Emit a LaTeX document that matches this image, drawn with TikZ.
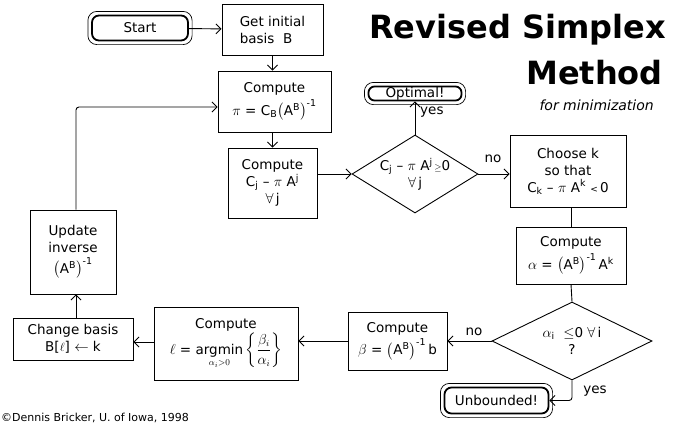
\documentclass[tikz,border=0pt]{standalone}
\usepackage{fontspec}
\usepackage{amsmath}
\usepackage{graphicx}
\setmainfont{DejaVu Sans}
\newfontfamily\titlefont{DejaVu Sans}
\usetikzlibrary{arrows.meta,shapes.geometric}

\tikzset{
  box/.style={draw, line width=0.9pt, align=center, inner sep=1pt,
    font=\fontsize{13.5}{17}\selectfont},
  decision/.style={draw, diamond, line width=0.9pt, align=center, inner sep=0pt,
    font=\fontsize{13.5}{17}\selectfont},
  terminal/.style={draw, line width=1.8pt, rounded corners=7pt, inner sep=0pt,
    font=\fontsize{13.5}{15}\selectfont},
  rim/.style={line width=0.7pt, rounded corners=9pt},
  flow/.style={line width=0.9pt, -{Straight Barb[length=5pt,width=10pt]}},
  plain/.style={line width=0.9pt},
  lbl/.style={font=\fontsize{13.5}{15}\selectfont, inner sep=0pt},
}
\newcommand{\ABinv}{\bigl(\text{A\textsuperscript{B}}\bigr)^{\text{-1}}}

\begin{document}
\begin{tikzpicture}[x=1pt,y=-1pt]
\useasboundingbox (0,0) rectangle (684,423);

% title
\node[anchor=base east, inner sep=0pt, font=\titlefont\bfseries\fontsize{32}{34}\selectfont]
  (title1) at (666,38) {Revised Simplex};
\node[anchor=base east, inner sep=0pt, font=\titlefont\bfseries\fontsize{32}{34}\selectfont]
  (title2) at (663,84) {Method};
\node[anchor=base east, inner sep=0pt, font=\itshape\fontsize{14}{16}\selectfont]
  (title3) at (654,110) {for minimization};

% terminals
\node[terminal, minimum width=96pt, minimum height=25pt] (start) at (140,28) {Start};
\node[terminal, minimum width=93pt, minimum height=14pt, rounded corners=6pt] (opt) at (415,93.5) {Optimal!};
\node[terminal, minimum width=104pt, minimum height=26pt] (unb) at (496.5,400.5) {Unbounded!};
\foreach \t in {start,opt,unb}
  \draw[rim] ([xshift=-3.2pt,yshift=-3.2pt]\t.south west) rectangle ([xshift=3.2pt,yshift=3.2pt]\t.north east);

% process boxes
\node[box, minimum width=101pt, minimum height=51pt, align=left] (getb) at (272.5,29.5)
  {Get initial\\basis\ \ B};
\node[box, minimum width=113pt, minimum height=61pt] (pi) at (274.5,101.5)
  {Compute\\[3pt] $\pi$ = C\textsubscript{B}$\ABinv$};
\node[box, minimum width=89pt, minimum height=70pt] (cj) at (272.5,183)
  {Compute\\C\textsubscript{j} -- $\pi$ A\textsuperscript{j}\\$\forall$\,j};
\node[box, minimum width=116pt, minimum height=72pt] (choosek) at (568,171)
  {Choose k\\so that\\C\textsubscript{k} -- $\pi$ A\textsuperscript{k} {\small<}\,0};
\node[box, minimum width=110pt, minimum height=57pt] (alpha) at (571,255.5)
  {Compute\\[3pt]$\alpha$ = $\ABinv$\,A\textsuperscript{k}};
\node[box, minimum width=99pt, minimum height=58pt] (beta) at (397.5,341)
  {Compute\\[3pt]$\beta$ = $\ABinv$\,b};
\node[box, minimum width=144pt, minimum height=73pt] (ell) at (226,343.5)
  {Compute\\[1pt]{\Large$\ell$} = $\mathop{\text{argmin}}\limits_{\alpha_i>0}\left\{\dfrac{\beta_i}{\alpha_i}\right\}$};
\node[box, minimum width=120pt, minimum height=42pt] (chg) at (73,339)
  {Change basis\\B[{\large$\ell$}] $\leftarrow$ k};
\node[box, minimum width=86pt, minimum height=84pt] (upd) at (73,252)
  {Update\\inverse\\[4pt]$\ABinv$};

% decisions
\node[decision, minimum width=126pt, minimum height=78pt, aspect=1.6] (d1) at (415,174)
  {C\textsubscript{j} -- $\pi$ A\textsuperscript{j\,}{\small$\geq$}0\\$\forall$\,j};
\node[decision, minimum width=160pt, minimum height=78pt, aspect=2] (d2) at (572,341)
  {$\alpha$\textsubscript{i}\ \ {$\leq$}0 $\forall$\,i\\?};

% connectors
\draw[flow] (start) -- (getb);
\draw[flow] (getb) -- (getb |- pi.north);
\draw[flow] (pi.south -| getb) -- (cj.north -| getb);
\draw[flow] (cj.east |- d1.west) -- (d1.west);
\draw[flow] (d1.north) -- (opt.south);
\draw[flow] (d1.east) -- (d1.east -| choosek.west);
\draw[plain] (alpha.north |- choosek.south) -- (alpha.north);
\draw[plain] (alpha.south) -- (d2.north);
\draw[flow] (d2.west) -- (d2.west -| beta.east);
\draw[flow, rounded corners=3pt] (d2.south) |- (unb.east);
\draw[flow] (beta.west) -- (beta.west -| ell.east);
\draw[flow] (ell.west |- 0,342) -- (chg.east |- 0,342);
\draw[flow] ([xshift=3pt]chg.north) -- ([xshift=3pt]upd.south);
\draw[flow, rounded corners=3pt] ([xshift=3pt]upd.north) |- ([yshift=-5.5pt]pi.west);

% branch labels
\node[lbl, anchor=base west] (yes1) at (420,114) {yes};
\node[lbl] (no1) at (493,159) {no};
\node[lbl] (no2) at (474,332) {no};
\node[lbl] (yes2) at (595,391) {yes};

% credit line
\node[anchor=base west, inner sep=0pt, font=\fontsize{11}{12}\selectfont] (credit) at (1,421)
  {\textcopyright Dennis Bricker, U. of Iowa, 1998};
\end{tikzpicture}
\end{document}
